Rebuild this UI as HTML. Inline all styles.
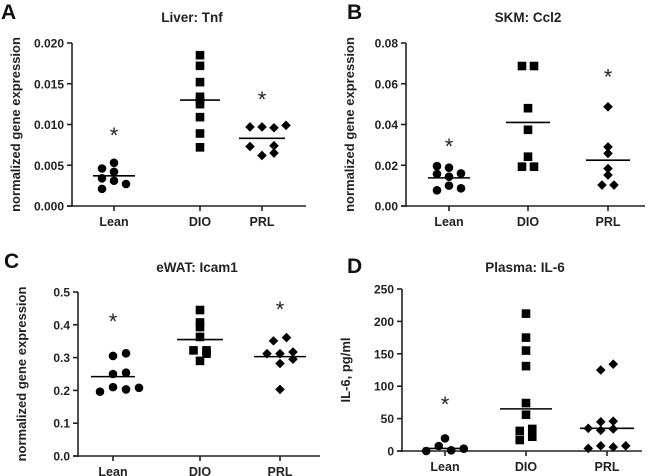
<!DOCTYPE html>
<html><head><meta charset="utf-8"><style>
body{margin:0;background:#fff;width:650px;height:476px;overflow:hidden}
svg{display:block;font-family:"Liberation Sans",Arial,sans-serif}
</style></head><body>
<svg id="fig" width="650" height="476"></svg>
<script>
const categories=["Lean","DIO","PRL"];
// Panel A
const aLean=[0.0046,0.0053,0.0042,0.0034,0.0031,0.0027,0.0021];
const aDIO=[0.0185,0.0172,0.0152,0.0134,0.0129,0.0125,0.0109,0.0089,0.0072];
const aPRL=[0.0097,0.0097,0.0096,0.0099,0.0073,0.0074,0.0062,0.0065];
const aMed=[0.0037,0.013,0.0083];
const aTicks=["0.000","0.005","0.010","0.015","0.020"];
const aSlots=[[-1,0,0,-1,0,1,-1],[0,0,0,0,0,0,0,0,0],[-1,0,1,2,-1,1,0,1]];
// Panel B
const bLean=[0.0196,0.0188,0.016,0.0157,0.0144,0.010,0.0087,0.0077];
const bDIO=[0.0687,0.0687,0.048,0.0374,0.0242,0.0193,0.0193];
const bPRL=[0.0487,0.029,0.0258,0.0184,0.0152,0.0103,0.0103];
const bMed=[0.0138,0.041,0.0225];
const bTicks=["0.00","0.02","0.04","0.06","0.08"];
const bSlots=[[-1,0,1,-1,0,0,1,-1],[-0.5,0.5,0,0,0,-0.5,0.5],[0,0,0,0,0,-0.5,0.5]];
// Panel C
const cLean=[0.196,0.305,0.313,0.25,0.254,0.21,0.203,0.208];
const cDIO=[0.445,0.407,0.393,0.363,0.322,0.322,0.312,0.29];
const cPRL=[0.361,0.351,0.312,0.312,0.317,0.282,0.295,0.203];
const cMed=[0.242,0.355,0.303];
const cTicks=["0.0","0.1","0.2","0.3","0.4","0.5"];
const cSlots=[[-1,0,1,0,1,0,1,2],[0,0,0,0,-0.5,0.5,0.5,0],[0.5,-0.5,-1,0,1,0,1,0]];
// Panel D
const dLean=[0,7.7,19.5,1,3.6];
const dDIO=[212,175,155,131,74,56,31,34,17,22];
const dPRL=[125,134,45,46,35,32,34,4,8,6,8];
const dMed=[4,65,35];
const dTicks=["0","50","100","150","200","250"];
const dSlots=[[-1.5,-0.5,0,0.5,1.5],[0,0,0,0,0,0,-0.5,0.5,-0.5,0.5],[-0.5,0.5,-0.5,0.5,-1.5,-0.5,0.5,-1.5,-0.5,0.5,1.5]];

const NS="http://www.w3.org/2000/svg";
const svg=document.getElementById('fig');
function mk(tag,attrs,parent,text){const e=document.createElementNS(NS,tag);for(const k in attrs)e.setAttribute(k,attrs[k]);if(text!==undefined)e.textContent=text;(parent||svg).appendChild(e);return e;}

function panel(p){
  const g=mk('g',{});
  
  
  const y=v=>p.y0-(v-p.min)/(p.max-p.min)*(p.y0-p.y1);
  const lt=mk('text',{x:p.lx,y:p.ly,'font-size':21,'font-weight':'bold',fill:'#111'},g,p.letter);
  
  const t=mk('text',{x:p.tx,y:p.ty,'font-size':13.5,'font-weight':'bold','text-anchor':'middle',fill:'#222'},g,p.title);
  
  const yl=mk('text',{x:0,y:0,'font-size':13,'font-weight':'bold','text-anchor':'middle',fill:'#222',transform:`translate(${p.ax-52},${(p.y0+p.y1)/2}) rotate(-90)`},g,p.ylabel);
  
  const ya=mk('line',{x1:p.ax,x2:p.ax,y1:p.y1,y2:p.y0+1,stroke:'#222','stroke-width':1.6},g);
  
  const xa=mk('line',{x1:p.ax-5,x2:p.xe,y1:p.y0,y2:p.y0,stroke:'#222','stroke-width':1.6},g);
  
  p.ticks.forEach((tl,i)=>{const v=p.min+i*(p.max-p.min)/(p.ticks.length-1);const yy=y(v);
    mk('line',{x1:p.ax-5,x2:p.ax,y1:yy,y2:yy,stroke:'#222','stroke-width':1.6},g);
    const tt=mk('text',{x:p.ax-8,y:yy+4.5,'font-size':12,'font-weight':'bold','text-anchor':'end',fill:'#222'},g,tl);
    });
  categories.forEach((c,i)=>{const cx=p.cx[i];
    mk('line',{x1:cx,x2:cx,y1:p.y0,y2:p.y0+5,stroke:'#222','stroke-width':1.6},g);
    const ct=mk('text',{x:cx,y:p.y0+20,'font-size':12.5,'font-weight':'bold','text-anchor':'middle',fill:'#222'},g,c);
    
    const vals=p.series[i];const js=p.slots[i];
    vals.forEach((v,j)=>{const px=cx+(js[j]||0)*p.sp,py=y(v);let m;
      if(i===0)m=mk('circle',{cx:px,cy:py,r:4.3,fill:'#000'},g);
      else if(i===1)m=mk('rect',{x:px-4.3,y:py-4.3,width:8.6,height:8.6,fill:'#000'},g);
      else m=mk('path',{d:`M${px} ${py-4.8}L${px+4.8} ${py}L${px} ${py+4.8}L${px-4.8} ${py}Z`,fill:'#000'},g);
      });
    const hw=p.mw[i];
    const ml=mk('line',{x1:cx-hw,x2:cx+hw,y1:y(p.med[i]),y2:y(p.med[i]),stroke:'#000','stroke-width':1.6},g);
    
    if(p.stars[i]!==null){const st=mk('text',{x:cx,y:y(p.stars[i])+11,'font-size':22,'text-anchor':'middle',fill:'#222'},g,'*');
      }
  });
}
panel({name:'panel-a-liver-tnf',letter:'A',lx:1,ly:19,title:'Liver: Tnf',tx:192,ty:22,ylabel:'normalized gene expression',ax:72,xe:306,y0:206,y1:43,min:0,max:0.02,ticks:aTicks,cx:[114,200,262],sp:12,slots:aSlots,series:[aLean,aDIO,aPRL],med:aMed,mw:[21,20,23],stars:[0.0091,null,0.0135]});
panel({name:'panel-b-skm-ccl2',letter:'B',lx:347,ly:19,title:'SKM: Ccl2',tx:528,ty:22,ylabel:'normalized gene expression',ax:406,xe:645,y0:206,y1:43,min:0,max:0.08,ticks:bTicks,cx:[449,528,608],sp:12,slots:bSlots,series:[bLean,bDIO,bPRL],med:bMed,mw:[21,22,22],stars:[0.031,null,0.065]});
panel({name:'panel-c-ewat-icam1',letter:'C',lx:4,ly:268,title:'eWAT: Icam1',tx:197,ty:272,ylabel:'normalized gene expression',ax:78,xe:320,y0:456,y1:292,min:0,max:0.5,ticks:cTicks,cx:[113,200,280],sp:13,slots:cSlots,series:[cLean,cDIO,cPRL],med:cMed,mw:[22,23,26],stars:[0.42,null,0.457]});
panel({name:'panel-d-plasma-il6',letter:'D',lx:347,ly:273,title:'Plasma: IL-6',tx:525,ty:272,ylabel:'IL-6, pg/ml',ax:402,xe:642,y0:451,y1:289,min:0,max:250,ticks:dTicks,cx:[445,526,607],sp:12.5,slots:dSlots,series:[dLean,dDIO,dPRL],med:dMed,mw:[22,26,27],stars:[77,null,null]});
</script>
</body></html>
